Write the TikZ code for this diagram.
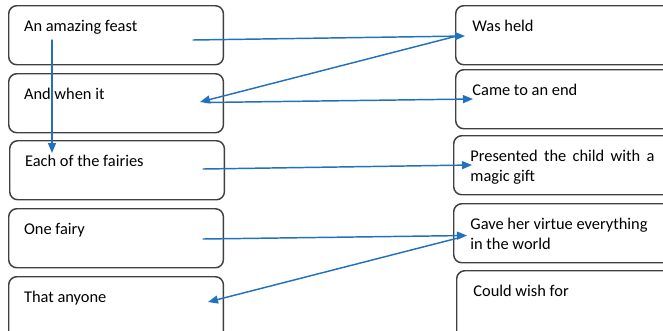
\documentclass[tikz,border=0pt]{standalone}
\usepackage{fontspec}
\setmainfont{Carlito}
\usetikzlibrary{arrows.meta}
\definecolor{linkblue}{RGB}{34,113,193}
\definecolor{edgegray}{RGB}{64,64,64}

\begin{document}
\begin{tikzpicture}[line cap=round,line join=round,>={Triangle[length=7.5pt,width=6pt]},x=0.75pt,y=-0.75pt,
  card/.style={draw=edgegray,line width=1.1pt,rounded corners=6pt,anchor=north west,inner xsep=11.5pt,inner ysep=9pt,
    text width=138pt,align=justify,text height=10.5pt,text depth=15.75pt,font=\fontsize{12.3}{15}\selectfont},
  rcard/.style={card,inner xsep=12.5pt},
  link/.style={->,draw=linkblue,line width=1.1pt}]
\useasboundingbox (0,0) rectangle (663,330);
\clip (0,0) rectangle (663,330);
% left column
\node[card] (feast) at (8,5) {An amazing feast};
\node[card] (when) at (8,73) {And when it};
\node[card] (each) at (9,140) {Each of the fairies};
\node[card] (fairy) at (8,208) {One fairy};
\node[card,text depth=25pt] (anyone) at (8,276) {That anyone};
% right column
\node[rcard] (held) at (455,5) {Was held};
\node[rcard] (ended) at (455,69) {Came to an end};
\node[rcard] (gift) at (453,135) {Presented the child with a magic gift};
\node[rcard,align=flush left] (virtue) at (453,203) {Gave her virtue everything in the world};
\node[rcard,text depth=25pt] (wish) at (456,270) {Could wish for};
% links
\draw[link] ([shift={(185,35)}]feast.north west) -- ([shift={(10,31)}]held.north west);
\draw[link] ([shift={(0,31.5)}]held.north west) -- ([shift={(192,29)}]when.north west);
\draw[link] ([shift={(197,29.5)}]when.north west) -- ([shift={(18,30)}]ended.north west);
\draw[link] ([shift={(44,35)}]feast.north west) -- ([shift={(43,13)}]each.north west);
\draw[link] ([shift={(194,29)}]each.north west) -- ([shift={(19,30)}]gift.north west);
\draw[link] ([shift={(195,31)}]fairy.north west) -- ([shift={(14,32.5)}]virtue.north west);
\draw[link] ([shift={(9,34)}]virtue.north west) -- ([shift={(200,26)}]anyone.north west);
\end{tikzpicture}
\end{document}
